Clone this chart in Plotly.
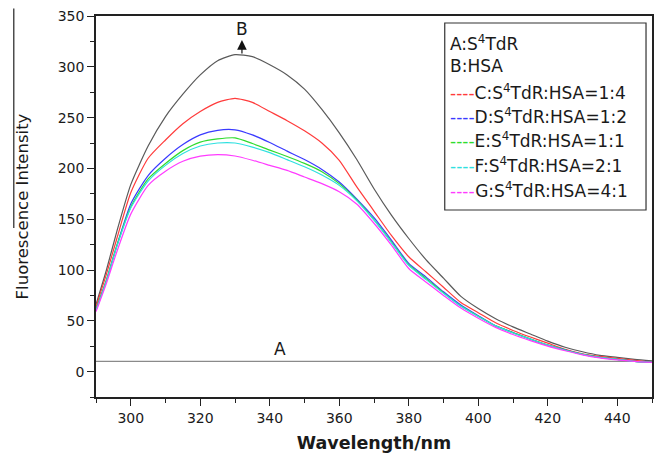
import plotly.graph_objects as go

# ---------------- data ----------------
wavelength = [290, 293, 296, 300, 305, 310, 315, 320, 325, 330, 335, 340, 345, 350, 355,
              360, 365, 370, 375, 380, 385, 390, 395, 400, 405, 410, 415, 420, 425, 430,
              435, 440, 445, 450]

A_s4tdr = [10, 10, 10, 10, 10, 10, 10, 10, 10, 10, 10, 10, 10, 10, 10, 10, 10,
           10, 10, 10, 10, 10, 10, 10, 10, 10, 10, 10, 10, 10, 10, 10, 10, 10]
B_hsa = [66, 100, 138, 184, 222, 251, 273, 292, 306, 312, 310, 302, 292, 278, 258,
         235, 209, 180, 154, 131, 110, 92, 74, 62, 52, 44, 37, 30, 24, 19.5,
         16, 14, 12, 10.5]
C_1_4 = [64, 96, 131, 176, 210, 228, 244, 256, 265, 269, 265, 256, 247, 237, 225,
         208, 182, 158, 134, 113, 98, 83, 68, 58, 48, 40.5, 34, 28, 22, 17.5,
         15, 13, 11, 9]
D_1_2 = [61, 90, 124, 165, 193, 210, 223.5, 233, 237.5, 238, 233, 225.5, 217, 208.7, 199,
         186.6, 170, 151.5, 129.5, 106.5, 93, 78.5, 65.5, 55, 45, 38.5, 32, 26, 21.5, 17,
         14, 12, 10, 9]
E_1_1 = [61, 90, 124, 162, 189.6, 204.8, 217.5, 225.8, 229, 230, 224.5, 218, 211.7, 204.9, 196.8,
         185, 169, 149.6, 127.8, 105.2, 91.5, 77.5, 64.5, 54.5, 45, 38.3, 32, 26, 21.3, 17,
         14, 12, 10, 9]
F_2_1 = [60, 89, 123, 161, 187.5, 203, 214.6, 222, 225, 225, 221, 215.5, 208.6, 201.6, 193.5,
         183.3, 168.3, 149, 127, 104.5, 90.5, 77, 64.2, 54.2, 45, 38, 32, 26, 21, 17,
         14, 12, 10, 9]
G_4_1 = [59, 87, 118, 155, 183.3, 197.2, 207, 212, 213.6, 212.2, 208, 203, 198, 191.5, 185,
         177, 165, 146, 124.5, 101.5, 88, 75, 62.5, 52.5, 43.5, 36.5, 30.5, 25, 20.5, 16.5,
         13.5, 11.5, 10, 9]

series_names = ["A:S<sup>4</sup>TdR", "B:HSA",
                "C:S<sup>4</sup>TdR:HSA=1:4", "D:S<sup>4</sup>TdR:HSA=1:2",
                "E:S<sup>4</sup>TdR:HSA=1:1", "F:S<sup>4</sup>TdR:HSA=2:1",
                "G:S<sup>4</sup>TdR:HSA=4:1"]
series_values = [A_s4tdr, B_hsa, C_1_4, D_1_2, E_1_1, F_2_1, G_4_1]
series_colors = ["#8a8a8a", "#5a5a5a", "#ff3b3b", "#3a3aff", "#2fdc2f", "#2fe0e0", "#ff3bff"]
legend_dash = [False, False, True, True, True, True, True]

x_ticks = [300, 320, 340, 360, 380, 400, 420, 440]
y_ticks = [0, 50, 100, 150, 200, 250, 300, 350]

FONT = "DejaVu Sans"
TXT = "#1a1a1a"

fig = go.Figure()
for name, vals, col in zip(series_names, series_values, series_colors):
    fig.add_trace(go.Scatter(x=wavelength, y=vals, mode="lines", name=name,
                             line=dict(color=col, width=1.2, shape="spline", smoothing=0.6),
                             showlegend=False))

# ---------------- geometry of plot area (pixels) ----------------
W, H = 659, 458
L, R, T, B = 96, 5, 16, 61
pw, ph = W - L - R, H - T - B


def px(xp):
    return (xp - L) / pw


def py(yp):
    return (H - B - yp) / ph


annotations = []
shapes = []

# legend box drawn as shape + text annotations
shapes.append(dict(type="rect", xref="paper", yref="paper",
                   x0=px(446), x1=px(648), y0=py(210), y1=py(23),
                   line=dict(color="#333333", width=1.2), fillcolor="white", layer="above"))
row_y = [43, 66, 92, 116, 140, 165, 190]
for name, col, dashed, yy in zip(series_names, series_colors, legend_dash, row_y):
    if dashed:
        txt = f"<span style='color:{col}'>----</span>{name}"
    else:
        txt = name
    annotations.append(dict(xref="paper", yref="paper", x=px(449), y=py(yy),
                            xanchor="left", yanchor="middle", showarrow=False,
                            text=txt, font=dict(family=FONT, size=17, color=TXT)))

# curve labels
annotations.append(dict(x=332, y=313, xref="x", yref="y", text="B", showarrow=True,
                        ax=0, ay=-25, arrowside="start", startarrowhead=2,
                        startarrowsize=1.6, arrowwidth=1.2, arrowcolor="#111111",
                        font=dict(family=FONT, size=17, color=TXT)))
annotations.append(dict(x=343, y=10, xref="x", yref="y", text="A", showarrow=False,
                        yanchor="bottom", yshift=0,
                        font=dict(family=FONT, size=17, color=TXT)))

# overline artefact beside y title
shapes.append(dict(type="line", xref="paper", yref="paper",
                   x0=px(13.5), x1=px(13.5), y0=py(228), y1=py(8.5),
                   line=dict(color="#222222", width=1.2)))

axis_common = dict(showline=True, linecolor="#222222", linewidth=1.6, mirror=True,
                   ticks="outside", ticklen=7, tickwidth=1.4, tickcolor="#222222",
                   showgrid=False, zeroline=False,
                   tickfont=dict(family=FONT, size=14, color=TXT))

fig.update_layout(
    width=W, height=H, autosize=False,
    margin=dict(l=L, r=R, t=T, b=B, pad=0),
    paper_bgcolor="white", plot_bgcolor="white",
    showlegend=False,
    xaxis=dict(axis_common, range=[290, 450], tickvals=x_ticks,
               minor=dict(ticks="outside", ticklen=4, tickwidth=1.4, tickcolor="#222222",
                          dtick=10, tick0=290),
               title=dict(text="<b>Wavelength/nm</b>", standoff=12,
                          font=dict(family=FONT, size=17.5, color=TXT))),
    yaxis=dict(axis_common, range=[-25, 350], tickvals=y_ticks,
               minor=dict(ticks="outside", ticklen=4, tickwidth=1.4, tickcolor="#222222",
                          dtick=25, tick0=-25),
               title=dict(text="Fluorescence Intensity", standoff=25,
                          font=dict(family=FONT, size=16.5, color=TXT))),
    annotations=annotations,
    shapes=shapes,
)

fig.write_html("out.html")
